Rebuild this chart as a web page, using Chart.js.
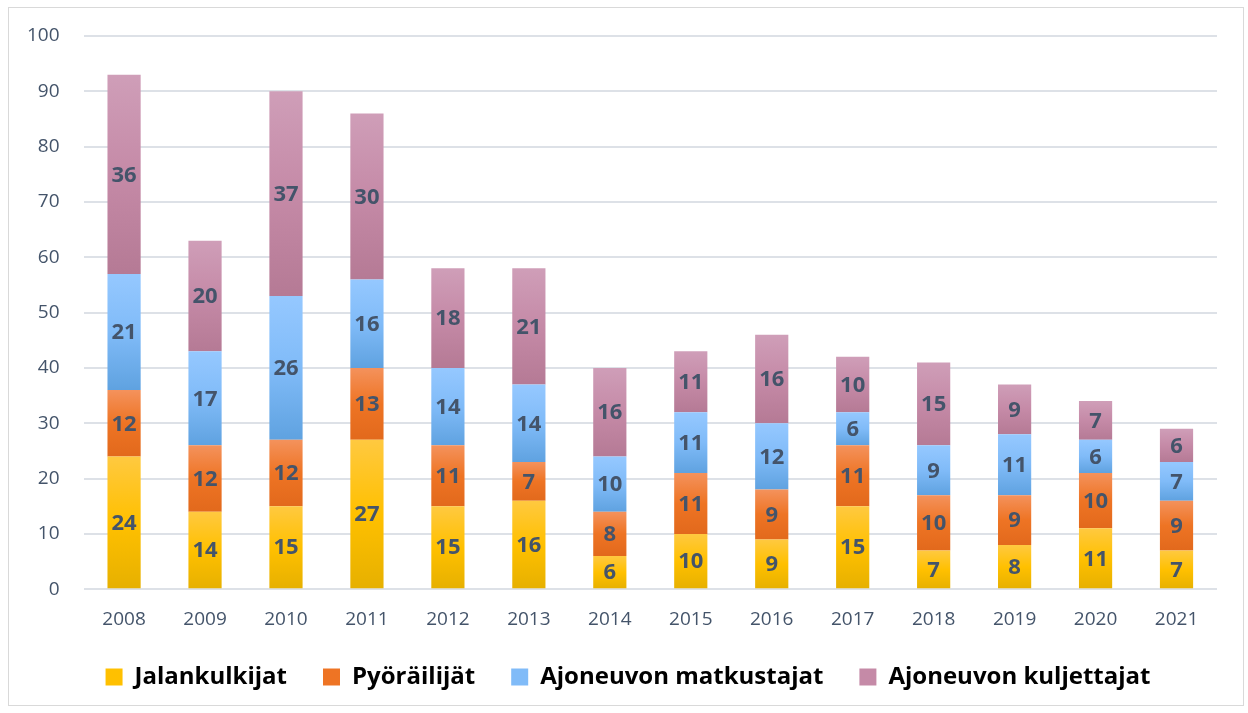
<!DOCTYPE html>
<html>
<head>
<meta charset="utf-8">
<script src="https://cdn.jsdelivr.net/npm/chart.js@4"></script>
<style>
  html, body { margin: 0; padding: 0; background: #fff; }
  #frame {
    position: absolute; left: 8px; top: 7px;
    width: 1234px; height: 697px;
    border: 1px solid #d9d9d9; background: #fff;
  }
  #chart { display: block; }
</style>
</head>
<body>
<div id="frame"><canvas id="chart" width="1234" height="697"></canvas></div>
<script>
// Vuodet ja sarjat
const years = ['2008','2009','2010','2011','2012','2013','2014','2015','2016','2017','2018','2019','2020','2021'];
const jalankulkijat = [24, 14, 15, 27, 15, 16, 6, 10, 9, 15, 7, 8, 11, 7];
const pyorailijat   = [12, 12, 12, 13, 11, 7, 8, 11, 9, 11, 10, 9, 10, 9];
const matkustajat   = [21, 17, 26, 16, 14, 14, 10, 11, 12, 6, 9, 11, 6, 7];
const kuljettajat   = [36, 20, 37, 30, 18, 21, 16, 11, 16, 10, 15, 9, 7, 6];
const seriesNames = ['Jalankulkijat', 'Pyöräilijät', 'Ajoneuvon matkustajat', 'Ajoneuvon kuljettajat'];

// gradient stops: top, middle, bottom
const palettes = [
  ['#ffc940', '#ffc000', '#e6b000'],
  ['#f4925c', '#ee7424', '#e2691c'],
  ['#95c8ff', '#80bbf8', '#5fa2e0'],
  ['#cf9eb8', '#c58aa7', '#b57a95'],
];
const allSeries = [jalankulkijat, pyorailijat, matkustajat, kuljettajat];
const FONT = "'Open Sans'";

function barGradient(ctx, di) {
  const chart = ctx.chart;
  const y = chart.scales.y;
  const pal = palettes[di];
  if (!chart.chartArea || !y || ctx.dataIndex === undefined) return pal[1];
  let base = 0;
  for (let k = 0; k < di; k++) base += allSeries[k][ctx.dataIndex];
  const top = base + allSeries[di][ctx.dataIndex];
  const y0 = y.getPixelForValue(top), y1 = y.getPixelForValue(base);
  if (!isFinite(y0) || !isFinite(y1) || y0 === y1) return pal[1];
  const g = chart.ctx.createLinearGradient(0, y0, 0, y1);
  g.addColorStop(0, pal[0]);
  g.addColorStop(0.5, pal[1]);
  g.addColorStop(1, pal[2]);
  return g;
}

// Arvot palkkien keskelle
const valueLabels = {
  id: 'valueLabels',
  afterDatasetsDraw(chart) {
    const c = chart.ctx;
    c.save();
    c.font = 'bold 22px ' + FONT;
    c.fillStyle = '#44546a';
    c.textAlign = 'center';
    c.textBaseline = 'middle';
    chart.data.datasets.forEach((ds, i) => {
      chart.getDatasetMeta(i).data.forEach((bar, j) => {
        const mid = (bar.y + bar.base) / 2;
        c.fillText(String(ds.data[j]), bar.x, mid + 1);
      });
    });
    c.restore();
  }
};

// selite hieman ylemmäs ja oikealle
const legendShift = {
  id: 'legendShift',
  afterLayout(chart) {
    const lg = chart.legend;
    if (lg) {
      lg.top -= 13; lg.bottom -= 13;
      lg.left += 18; lg.right += 18;
    }
  }
};

new Chart(document.getElementById('chart'), {
  type: 'bar',
  data: {
    labels: years,
    datasets: allSeries.map((arr, i) => ({
      label: seriesNames[i],
      data: arr,
      backgroundColor: ctx => barGradient(ctx, i),
      borderWidth: 0,
      categoryPercentage: 1,
      barPercentage: 0.41,
    })),
  },
  options: {
    responsive: false,
    animation: false,
    layout: { padding: { left: -6, right: 26, top: 28, bottom: -7 } },
    plugins: {
      tooltip: { enabled: false },
      legend: {
        position: 'bottom',
        maxHeight: 76,
        labels: {
          color: '#000',
          font: { family: FONT, size: 24, weight: 'bold' },
          boxWidth: 17,
          boxHeight: 17,
          padding: 36,
          generateLabels: chart => chart.data.datasets.map((ds, i) => ({
            text: ds.label,
            fillStyle: palettes[i][1],
            strokeStyle: palettes[i][1],
            lineWidth: 0,
            datasetIndex: i,
          })),
        },
      },
    },
    scales: {
      x: {
        stacked: true,
        grid: { display: false },
        border: { display: false },
        ticks: { color: '#44546a', font: { family: FONT, size: 19 }, padding: 11 },
      },
      y: {
        stacked: true,
        min: 0,
        max: 100,
        ticks: { stepSize: 10, color: '#44546a', font: { family: FONT, size: 19 }, padding: 24 },
        grid: { color: '#dde1e7', lineWidth: 2, drawTicks: false },
        border: { display: false },
        afterFit: s => { s.paddingTop = 0; s.paddingBottom = 0; },
      },
    },
  },
  plugins: [valueLabels, legendShift],
});
</script>
</body>
</html>
